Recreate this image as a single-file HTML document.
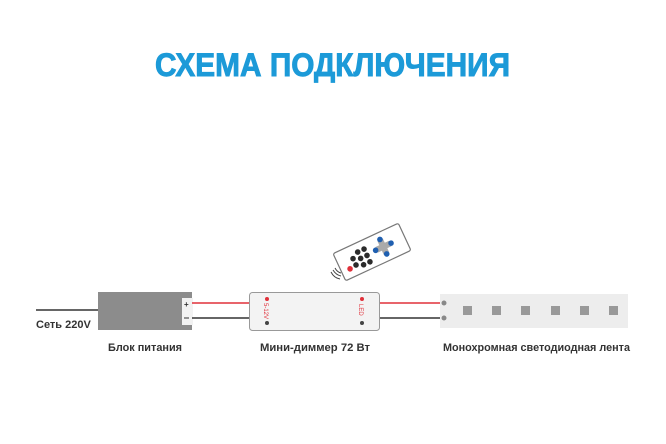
<!DOCTYPE html>
<html><head><meta charset="utf-8"><style>
html,body{margin:0;padding:0;background:#fff;}
svg{display:block;}
text{font-family:"Liberation Sans","DejaVu Sans",sans-serif;}
</style></head><body>
<svg width="666" height="444" viewBox="0 0 666 444" xmlns="http://www.w3.org/2000/svg">
<rect width="666" height="444" fill="#fff"/>
<text x="155" y="76" font-size="32" font-weight="bold" fill="#1c9ad8" stroke="#1c9ad8" stroke-width="0.9" textLength="355" lengthAdjust="spacingAndGlyphs">СХЕМА ПОДКЛЮЧЕНИЯ</text>
<line x1="36" y1="310" x2="98" y2="310" stroke="#333" stroke-width="1.5"/>
<rect x="98" y="292" width="94" height="38" fill="#8c8c8c"/>
<rect x="182" y="298" width="11" height="27" fill="#f2f2f2"/>
<text x="184" y="307" font-size="8" font-weight="bold" fill="#333">+</text>
<line x1="184" y1="318" x2="189" y2="318" stroke="#333" stroke-width="1"/>
<line x1="192" y1="303" x2="250" y2="303" stroke="#e0303a" stroke-width="1.5"/>
<line x1="192" y1="318" x2="250" y2="318" stroke="#333" stroke-width="1.5"/>
<line x1="380" y1="303" x2="444" y2="303" stroke="#e0303a" stroke-width="1.5"/>
<line x1="380" y1="318" x2="444" y2="318" stroke="#333" stroke-width="1.5"/>
<rect x="249.5" y="292.5" width="130" height="38" rx="3" fill="#f3f3f3" stroke="#999" stroke-width="1"/>
<circle cx="267" cy="299" r="2" fill="#e0303a"/>
<circle cx="267" cy="323" r="2" fill="#444"/>
<text transform="translate(264,303) rotate(90)" font-size="6" fill="#e0303a">5-12V</text>
<circle cx="362" cy="299" r="2" fill="#e0303a"/>
<circle cx="362" cy="323" r="2" fill="#444"/>
<text transform="translate(359,304) rotate(90)" font-size="6" fill="#e0303a">LED</text>
<rect x="440" y="294" width="188" height="34" fill="#ededed"/>
<circle cx="444" cy="303" r="2.5" fill="#888"/>
<circle cx="444" cy="318" r="2.5" fill="#888"/>
<g fill="#999">
<rect x="463" y="306" width="9" height="9"/>
<rect x="492" y="306" width="9" height="9"/>
<rect x="521" y="306" width="9" height="9"/>
<rect x="551" y="306" width="9" height="9"/>
<rect x="580" y="306" width="9" height="9"/>
<rect x="609" y="306" width="9" height="9"/>
</g>
<g transform="translate(372,252) rotate(-25)">
<rect x="-36" y="-15" width="72" height="30" rx="2" fill="#fff" stroke="#777" stroke-width="1.2"/>
<rect x="5" y="-3" width="15" height="6" fill="#aaa"/>
<rect x="9.5" y="-7.5" width="6" height="15" fill="#aaa"/>
<circle cx="12.5" cy="-8" r="2.8" fill="#1f5fb0"/>
<circle cx="12.5" cy="8" r="2.8" fill="#1f5fb0"/>
<circle cx="4" cy="0" r="2.8" fill="#1f5fb0"/>
<circle cx="21" cy="0" r="2.8" fill="#1f5fb0"/>
<g fill="#2b2b2b">
<circle cx="-6" cy="-6" r="2.8"/><circle cx="-6" cy="1" r="2.8"/><circle cx="-6" cy="8" r="2.8"/>
<circle cx="-13" cy="-6" r="2.8"/><circle cx="-13" cy="1" r="2.8"/><circle cx="-13" cy="8" r="2.8"/>
<circle cx="-20" cy="-2" r="2.8"/><circle cx="-20" cy="5" r="2.8"/>
</g>
<circle cx="-27" cy="6" r="2.8" fill="#e0303a"/>
</g>
<g fill="none" stroke="#444" stroke-width="1">
<path d="M335 268 q2 4 6 5"/><path d="M333 270 q3 5 8 6"/><path d="M331 272 q3 6 9 7"/>
</g>
<text x="36" y="328" font-size="11" font-weight="bold" fill="#333">Сеть 220V</text>
<text x="108" y="351" font-size="11" font-weight="bold" fill="#333" textLength="74" lengthAdjust="spacingAndGlyphs">Блок питания</text>
<text x="260" y="351" font-size="11" font-weight="bold" fill="#333" textLength="110" lengthAdjust="spacingAndGlyphs">Мини-диммер 72 Вт</text>
<text x="443" y="351" font-size="11" font-weight="bold" fill="#333" textLength="187" lengthAdjust="spacingAndGlyphs">Монохромная светодиодная лента</text>
</svg>
</body></html>
